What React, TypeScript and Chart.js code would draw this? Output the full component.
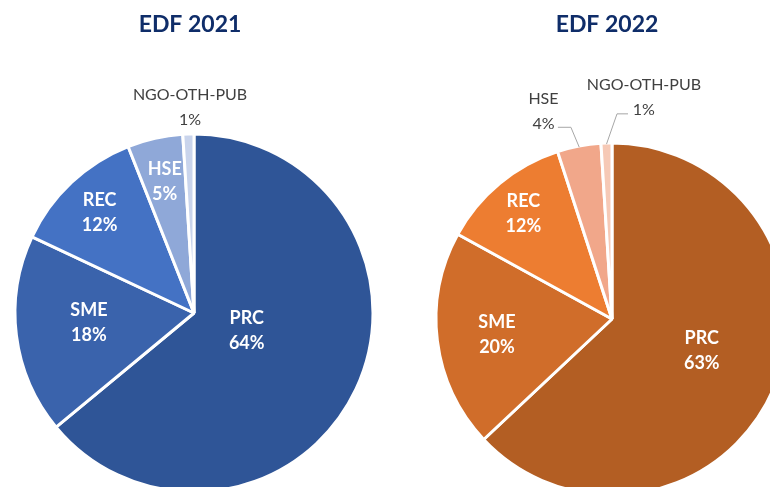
import React, { useEffect, useRef } from "react";
import Chart from "chart.js/auto";

const CATEGORIES = ["PRC", "SME", "REC", "HSE", "NGO-OTH-PUB"];
const VALUES_2021 = [64, 18, 12, 5, 1];
const VALUES_2022 = [63, 20, 12, 4, 1];
const TITLE_2021 = "EDF 2021";
const TITLE_2022 = "EDF 2022";
const COLORS_2021 = ["#2F5597", "#3A63AC", "#4472C4", "#8FA8D8", "#C9D4EC"];
const COLORS_2022 = ["#B35E23", "#D06D2A", "#ED7D31", "#F1A78A", "#F6C9B6"];

type Place = {
  dist: number;
  dAng: number;
  inside: boolean;
  elbowDist?: number;
  elbowDAng?: number;
  tail?: number;
};

const PLACES_2021: Place[] = [
  { dist: 0.31, dAng: -7, inside: true },
  { dist: 0.59, dAng: 1.7, inside: true },
  { dist: 0.77, dAng: 0, inside: true },
  { dist: 0.75, dAng: 0, inside: true },
  { dist: 1.15, dAng: 0.7, inside: false },
];
const PLACES_2022: Place[] = [
  { dist: 0.54, dAng: -4.2, inside: true },
  { dist: 0.66, dAng: -0.8, inside: true },
  { dist: 0.78, dAng: -0.6, inside: true },
  { dist: 1.24, dAng: -7.5, inside: false, elbowDist: 1.114, elbowDAng: -1.3, tail: -13 },
  { dist: 1.27, dAng: 10, inside: false, elbowDist: 1.166, elbowDAng: 3.2, tail: 11 },
];

const FONT = "Lato, 'Open Sans', sans-serif";

function makeLabelPlugin(title: string, titleX: number, titleY: number, places: Place[]) {
  return {
    id: "pieLabels",
    afterDraw(chart: any) {
      const ctx = chart.ctx as CanvasRenderingContext2D;
      const meta = chart.getDatasetMeta(0);
      const values = chart.data.datasets[0].data as number[];
      const total = values.reduce((a, b) => a + b, 0);
      ctx.save();
      ctx.textAlign = "center";
      ctx.textBaseline = "middle";
      ctx.fillStyle = "#0F2D69";
      ctx.font = `bold 23px ${FONT}`;
      ctx.fillText(title, titleX, titleY);
      meta.data.forEach((arc: any, i: number) => {
        const p = places[i];
        const { x, y, startAngle, endAngle, outerRadius } = arc.getProps(
          ["x", "y", "startAngle", "endAngle", "outerRadius"],
          true
        );
        const R = outerRadius;
        const mid = (startAngle + endAngle) / 2;
        const a = mid + (p.dAng * Math.PI) / 180;
        const lx = x + Math.cos(a) * p.dist * R;
        const ly = y + Math.sin(a) * p.dist * R;
        const pct = Math.round((values[i] / total) * 100) + "%";
        const lh = 25;
        if (p.inside) {
          ctx.fillStyle = "#FFFFFF";
          ctx.font = `bold 18px ${FONT}`;
        } else {
          ctx.fillStyle = "#404040";
          ctx.font = `16px ${FONT}`;
        }
        ctx.fillText(String(chart.data.labels[i]), lx, ly - lh / 2);
        ctx.fillText(pct, lx, ly + lh / 2);
        if (p.elbowDist !== undefined) {
          const ea = mid + ((p.elbowDAng || 0) * Math.PI) / 180;
          const ex = x + Math.cos(ea) * p.elbowDist * R;
          const ey = y + Math.sin(ea) * p.elbowDist * R;
          ctx.strokeStyle = "#A6A6A6";
          ctx.lineWidth = 1;
          ctx.beginPath();
          ctx.moveTo(x + Math.cos(mid) * (R - 1), y + Math.sin(mid) * (R - 1));
          ctx.lineTo(ex, ey);
          ctx.lineTo(ex + (p.tail || 0), ey);
          ctx.stroke();
        }
      });
      ctx.restore();
    },
  };
}

function PieChart(props: {
  values: number[];
  colors: string[];
  title: string;
  places: Place[];
  left: number;
  width: number;
  height: number;
  radius: number;
  titleX: number;
  titleY: number;
}) {
  const ref = useRef<HTMLCanvasElement | null>(null);
  useEffect(() => {
    let chart: Chart | null = null;
    let cancelled = false;
    const fontsReady = (document as any).fonts
      ? Promise.all([
          (document as any).fonts.load(`bold 23px Lato`),
          (document as any).fonts.load(`16px Lato`),
        ]).catch(() => null)
      : Promise.resolve(null);
    fontsReady.then(() => {
      if (cancelled || !ref.current) return;
      chart = new Chart(ref.current, {
        type: "pie",
        data: {
          labels: CATEGORIES,
          datasets: [
            {
              data: props.values,
              backgroundColor: props.colors,
              borderColor: "#FFFFFF",
              borderWidth: 3,
            },
          ],
        },
        options: {
          animation: false,
          responsive: false,
          radius: props.radius,
          layout: { padding: 0 },
          plugins: {
            legend: { display: false },
            tooltip: { enabled: false },
            title: { display: false },
          },
        } as any,
        plugins: [makeLabelPlugin(props.title, props.titleX, props.titleY, props.places)],
      });
    });
    return () => {
      cancelled = true;
      if (chart) chart.destroy();
    };
  }, []);
  return (
    <canvas
      ref={ref}
      width={props.width}
      height={props.height}
      style={{
        position: "absolute",
        left: props.left,
        top: 0,
        width: props.width,
        height: props.height,
      }}
    />
  );
}

export default function App() {
  return (
    <div
      style={{
        position: "fixed",
        left: 0,
        top: 0,
        width: 770,
        height: 487,
        overflow: "hidden",
        background: "#FFFFFF",
      }}
    >
      <PieChart
        values={VALUES_2021}
        colors={COLORS_2021}
        title={TITLE_2021}
        places={PLACES_2021}
        left={0}
        width={388}
        height={626}
        radius={179}
        titleX={190}
        titleY={25}
      />
      <PieChart
        values={VALUES_2022}
        colors={COLORS_2022}
        title={TITLE_2022}
        places={PLACES_2022}
        left={418}
        width={388}
        height={638}
        radius={176}
        titleX={189}
        titleY={25}
      />
    </div>
  );
}
